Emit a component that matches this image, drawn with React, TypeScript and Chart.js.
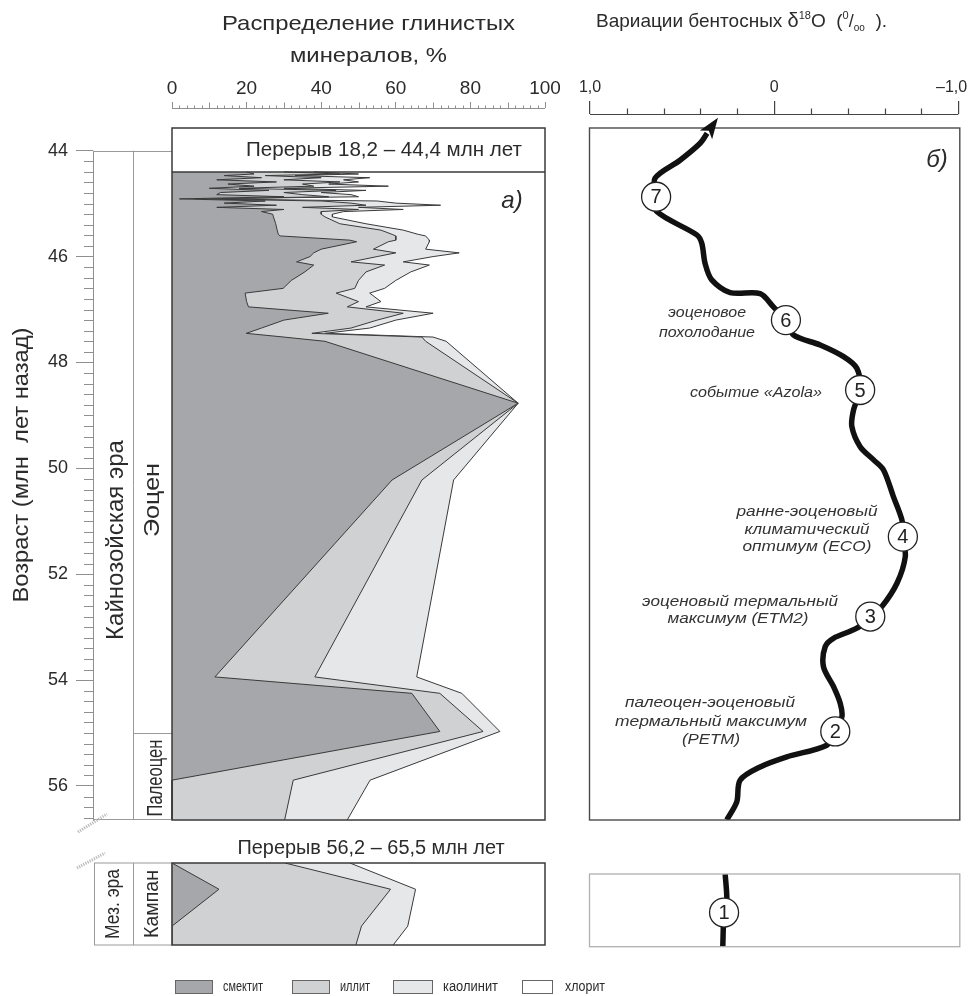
import React, { useEffect, useRef } from 'react';
import { Chart, registerables } from 'chart.js';

Chart.register(...registerables);

// ===================== DATA =====================
// Eocene – Paleocene section, sample ages (Ma)
const AGES = [44.40, 44.44, 44.47, 44.51, 44.55, 44.59, 44.63, 44.67, 44.71, 44.75,
  44.79, 44.83, 44.87, 44.91, 44.95, 44.99, 45.03, 45.07, 45.11, 45.15,
  45.20, 45.25, 45.38, 45.50, 45.58, 45.61, 45.69, 45.72, 45.86, 45.93,
  46.00, 46.10, 46.16, 46.29, 46.45, 46.60, 46.69, 46.85, 46.95, 47.07,
  47.20, 47.35, 47.45, 47.52, 47.60, 48.77, 50.22, 53.94, 54.25, 54.97,
  55.89, 56.64];
// clay minerals, %
const SMECTITE = [20, 22, 14, 24, 12, 28, 15, 22, 10, 26,
  13, 12, 30, 2, 25, 14, 28, 12, 30, 24,
  27, 27.2, 27.8, 28.2, 28.5, 29, 47.7, 49.5, 40, 38,
  37, 33.4, 38, 35.6, 32, 29.8, 19.6, 20, 20.5, 41.9,
  30, 24, 19.9, 30, 41, 92.8, 59, 11.5, 64.3, 71.8,
  0, 0];
const ILLITE = [10, 23, 11, 16, 18, 17, 20, 16, 8, 18,
  17, 23, 12, 4, 15, 34, 24, 23, 20, 16,
  13, 13.8, 17.2, 27.8, 30.5, 31, 12.3, 8.5, 14, 22,
  18, 14.6, 19, 16.4, 18, 19.2, 24.4, 30, 26.5, 20.1,
  25, 24, 17.6, 37, 27, 0, 8, 26.8, 7.5, 11.6,
  32.5, 30.2];
const KAOLINITE = [8, 5, 8, 13, 16, 5, 7, 20, 12, 8,
  10, 13, 8, 4, 15, 12, 20, 15, 12, 6,
  3, 2, 7, 6, 7, 8, 9, 11, 14, 17,
  15, 14, 12, 12, 10, 8, 9, 6, 5, 8,
  5, 5, 3.5, 3, 5.5, 0, 8.5, 27.3, 5.9, 4.5,
  20.6, 16.8];
const CHLORITE = [62, 50, 67, 47, 54, 50, 58, 42, 70, 48,
  60, 52, 50, 90, 45, 40, 28, 50, 38, 54,
  57, 57, 48, 38, 34, 32, 31, 31, 32, 23,
  30, 38, 31, 36, 40, 43, 47, 44, 48, 30,
  40, 47, 59, 30, 26.5, 7.2, 24.5, 34.4, 22.3, 12.1,
  46.9, 53];

// Campanian interval (relative position in the box, 0 = top, 1 = bottom)
const CAMP_POS = [0, 0.32, 0.77, 1];
const CAMP_SMECTITE = [0, 12.6, 0, 0];
const CAMP_ILLITE = [30.3, 46, 50.8, 49.3];
const CAMP_KAOLINITE = [17.4, 6.7, 12.4, 10];
const CAMP_CHLORITE = [52.3, 34.7, 36.8, 40.7];

// benthic d18O curve
const D18O_AGES = [43.67, 43.86, 44.18, 44.52, 44.87, 45.15, 45.59, 45.75, 46.13, 46.44,
  46.68, 46.70, 46.95, 47.20, 47.48, 47.67, 47.89, 48.11, 48.52, 48.90,
  49.21, 49.59, 49.84, 50.03, 50.54, 50.98, 51.29, 51.67, 52.17, 52.61,
  52.80, 53.02, 53.21, 53.37, 53.75, 54.12, 54.44, 54.69, 54.97, 55.23,
  55.45, 55.64, 55.89, 56.30, 56.64];
const D18O = [0.364, 0.402, 0.511, 0.647, 0.641, 0.637, 0.420, 0.393, 0.375, 0.339,
  0.239, 0.076, 0.004, -0.064, -0.105, -0.250, -0.377, -0.449, -0.467, -0.431,
  -0.422, -0.467, -0.540, -0.594, -0.648, -0.694, -0.699, -0.712, -0.667, -0.585,
  -0.522, -0.449, -0.322, -0.277, -0.268, -0.322, -0.359, -0.368, -0.332, -0.286,
  -0.069, 0.076, 0.185, 0.203, 0.257];
const EVENT_LABELS = ['7', '6', '5', '4', '3', '2'];
const EVENT_AGES = [44.87, 47.20, 48.52, 51.29, 52.80, 54.97];
const EVENT_D18O = [0.641, -0.064, -0.467, -0.699, -0.522, -0.332];

const CAMP_D18O_POS = [0, 0.36, 0.53, 1];
const CAMP_D18O = [0.266, 0.257, 0.272, 0.279];
const CAMP_EVENT_LABELS = ['1'];
const CAMP_EVENT_POS = [0.53];
const CAMP_EVENT_D18O = [0.272];

const PCT_TICKS = [0, 20, 40, 60, 80, 100];
const AGE_TICKS = [44, 46, 48, 50, 52, 54, 56];
const D18O_TICKS = [1, 0, -1];
const MINERALS = ['смектит', 'иллит', 'каолинит', 'хлорит'];
const EPOCH_BOUNDARY_AGE = 55.0;

// ===================== STYLE =====================
const MINERAL_COLORS = ['#a6a7aa', '#d0d1d3', '#e6e7e9', '#ffffff'];
const EDGE = '#3a3a3a';
const TEXT = '#2b2b2b';
const AXIS_GRAY = '#8f8f8f';
const FONT_SANS = '"Liberation Sans", Arial, Helvetica, sans-serif';
const FONT_NARROW = '"Liberation Sans Narrow", "Arial Narrow", "Liberation Sans", Arial, sans-serif';

// ===================== HELPERS =====================
type TextOpts = { size: number; family?: string; italic?: boolean; color?: string; align?: CanvasTextAlign; width?: number; rot?: number };
function drawText(ctx: CanvasRenderingContext2D, s: string, x: number, y: number, o: TextOpts) {
  ctx.save();
  ctx.translate(x, y);
  if (o.rot) ctx.rotate(o.rot);
  ctx.font = `${o.italic ? 'italic ' : ''}${o.size}px ${o.family || FONT_SANS}`;
  ctx.fillStyle = o.color || TEXT;
  ctx.textAlign = o.align || 'center';
  ctx.textBaseline = 'middle';
  if (o.width) {
    const w = ctx.measureText(s).width;
    if (w > 0) ctx.scale(o.width / w, 1);
  }
  ctx.fillText(s, 0, 0);
  ctx.restore();
}
function seg(ctx: CanvasRenderingContext2D, x1: number, y1: number, x2: number, y2: number) {
  ctx.beginPath();
  ctx.moveTo(x1, y1);
  ctx.lineTo(x2, y2);
  ctx.stroke();
}
function cumulate(series: number[][]): number[][] {
  const out: number[][] = [];
  let acc = series[0].map(() => 0);
  for (const s of series) {
    acc = acc.map((a, i) => a + s[i]);
    out.push(acc);
  }
  return out;
}
function stackedDatasets(pos: number[], series: number[][]) {
  const cum = cumulate(series);
  return cum.map((vals, i) => ({
    label: MINERALS[i],
    data: pos.map((p, j) => ({ x: vals[j], y: p })),
    fill: 'origin',
    backgroundColor: MINERAL_COLORS[i],
    borderColor: i < 3 ? EDGE : 'rgba(0,0,0,0)',
    borderWidth: i < 3 ? 1 : 0.01,
    pointRadius: 0,
    tension: 0,
  }));
}
const noPad = (s: any) => { s.paddingLeft = 0; s.paddingRight = 0; s.paddingTop = 0; s.paddingBottom = 0; };
const baseOptions = {
  animation: false,
  responsive: false,
  maintainAspectRatio: false,
  indexAxis: 'y',
  events: [],
  plugins: { legend: { display: false }, tooltip: { enabled: false }, title: { display: false } },
};
const fmtD18O = (v: number) => (v === 0 ? '0' : v < 0 ? '–' + Math.abs(v).toFixed(1).replace('.', ',') + '   ' : v.toFixed(1).replace('.', ','));

// ===================== LAYOUT (page px) =====================
const LEFT_W = 560, MAIN_H = 840;
const PANEL_L = 172, PANEL_R = 545, AXIS_X = 93, COL_X = 133;
const RULER_L = 108, RULER_R = 114, PANEL_B = 820;
const Y_AGE44 = 150.7, PX_PER_MA = 52.94;
const AGE_MAX = 44 + (PANEL_B - Y_AGE44) / PX_PER_MA;
const AGE_MIN_L = 44 - (Y_AGE44 - RULER_L) / PX_PER_MA;
const AGE_MIN_R = 44 - (Y_AGE44 - RULER_R) / PX_PER_MA;
const RIGHT_X = 560, RIGHT_W = 411, R_L = 590, R_R = 958.3;

// ===================== CHART CONFIGS =====================
function leftMainConfig(): any {
  const decor = {
    id: 'leftDecor',
    afterDraw(chart: any) {
      const { ctx, chartArea: ca, scales } = chart;
      const xs = scales.x, ys = scales.y;
      const X0 = xs.getPixelForValue(0), X100 = xs.getPixelForValue(100);
      ctx.save();
      // percent ruler
      ctx.strokeStyle = AXIS_GRAY; ctx.lineWidth = 1;
      const ry = Math.round(ca.top) + 0.5;
      seg(ctx, X0, ry, X100, ry);
      for (let v = 0; v <= 100; v += 2) {
        if (v % 20 === 0) continue;
        const px = Math.round(xs.getPixelForValue(v)) + 0.5;
        seg(ctx, px, ry, px, ry - (v % 10 === 0 ? 6 : 3));
      }
      // age minor ticks + axis line
      const yTop = ys.getPixelForValue(44);
      for (let k = 1; k < 70; k++) {
        if (k % 10 === 0) continue;
        const a = 44 + k * 0.2;
        if (a > ys.max) break;
        const py = Math.round(ys.getPixelForValue(a)) + 0.5;
        seg(ctx, ca.left - 9, py, ca.left, py);
      }
      const ax = Math.round(ca.left) + 0.5;
      seg(ctx, ax, yTop, ax, ca.bottom + 1);
      // stratigraphic columns
      ctx.strokeStyle = '#9a9a9a';
      seg(ctx, ca.left, Math.round(yTop) + 0.5, X0, Math.round(yTop) + 0.5);
      seg(ctx, COL_X + 0.5, yTop, COL_X + 0.5, ca.bottom);
      seg(ctx, ca.left, ca.bottom - 0.5, X0, ca.bottom - 0.5);
      const yb = Math.round(ys.getPixelForValue(EPOCH_BOUNDARY_AGE)) + 0.5;
      seg(ctx, COL_X, yb, X0, yb);
      // break mark
      ctx.strokeStyle = '#b8b8b8'; ctx.lineWidth = 3; ctx.setLineDash([1.2, 1.2]);
      seg(ctx, 78, 832, 107, 814);
      ctx.setLineDash([]);
      // panel frame and header box
      ctx.strokeStyle = EDGE; ctx.lineWidth = 1.5;
      ctx.strokeRect(X0, ca.top + 20, X100 - X0, ca.bottom - ca.top - 20);
      const yh = ys.getPixelForValue(AGES[0]);
      seg(ctx, X0, yh, X100, yh);
      ctx.restore();

      drawText(ctx, 'Распределение глинистых', 368.5, 24, { size: 21, width: 293 });
      drawText(ctx, 'минералов, %', 368.5, 56, { size: 21, width: 157 });
      drawText(ctx, 'Перерыв 18,2 – 44,4 млн лет', 384, 150, { size: 20, width: 276 });
      drawText(ctx, 'а)', 512, 201, { size: 24, italic: true });
      drawText(ctx, 'Возраст (млн  лет назад)', 22, 465, { size: 22, width: 275, rot: -Math.PI / 2 });
      drawText(ctx, 'Кайнозойская эра', 116, 540, { size: 24, width: 200, rot: -Math.PI / 2 });
      drawText(ctx, 'Эоцен', 153, 500, { size: 22, width: 74, rot: -Math.PI / 2 });
      drawText(ctx, 'Палеоцен', 156, 778, { size: 22, family: FONT_NARROW, width: 77, rot: -Math.PI / 2 });
    },
  };
  return {
    type: 'line',
    data: { datasets: stackedDatasets(AGES, [SMECTITE, ILLITE, KAOLINITE, CHLORITE]) },
    options: {
      ...baseOptions,
      layout: { padding: { left: 0, top: 0, right: LEFT_W - PANEL_R, bottom: MAIN_H - PANEL_B }, autoPadding: false },
      scales: {
        x: {
          type: 'linear', position: 'top',
          min: -(PANEL_L - AXIS_X) / ((PANEL_R - PANEL_L) / 100), max: 100,
          afterBuildTicks: (s: any) => { s.ticks = PCT_TICKS.map((v) => ({ value: v })); },
          afterFit: (s: any) => { s.height = RULER_L; noPad(s); },
          ticks: { autoSkip: false, maxRotation: 0, padding: 2, color: TEXT, font: { family: FONT_NARROW, size: 19 }, callback: (v: any) => String(v) },
          grid: { drawOnChartArea: false, drawTicks: true, tickLength: 6, color: AXIS_GRAY },
          border: { display: false },
        },
        y: {
          type: 'linear', position: 'left', reverse: true, min: AGE_MIN_L, max: AGE_MAX,
          afterBuildTicks: (s: any) => { s.ticks = AGE_TICKS.map((v) => ({ value: v })); },
          afterFit: (s: any) => { s.width = AXIS_X; noPad(s); },
          ticks: { autoSkip: false, padding: 8, color: TEXT, font: { family: FONT_NARROW, size: 18 }, callback: (v: any) => String(v) },
          grid: { drawOnChartArea: false, drawTicks: true, tickLength: 17, color: AXIS_GRAY },
          border: { display: false },
        },
      },
    },
    plugins: [decor],
  };
}

function rightMainConfig(): any {
  const decor = {
    id: 'rightDecor',
    afterDraw(chart: any) {
      const { ctx, chartArea: ca, scales } = chart;
      const xs = scales.x;
      ctx.save();
      // ruler
      ctx.strokeStyle = '#444'; ctx.lineWidth = 1.2;
      const ry = Math.round(ca.top) + 0.5;
      const xa = xs.getPixelForValue(1), xb = xs.getPixelForValue(-1);
      seg(ctx, xa, ry, xb, ry);
      for (let k = -4; k <= 4; k++) {
        if (k === 0) continue;
        const px = Math.round(xs.getPixelForValue(k * 0.2)) + 0.5;
        seg(ctx, px, ry, px, ry - 6);
      }
      // frame
      ctx.strokeStyle = '#4a4a4a'; ctx.lineWidth = 1.4;
      ctx.strokeRect(xa - 0.5, ca.top + 14, xb - xa + 2, ca.bottom - ca.top - 14);
      // arrow head at the young end of the curve
      const meta = chart.getDatasetMeta(1);
      const p0 = meta.data[0], p1 = meta.data[1];
      let dx = p0.x - p1.x, dy = p0.y - p1.y;
      const len = Math.hypot(dx, dy) || 1; dx /= len; dy /= len;
      const tipX = p0.x + dx * 19, tipY = p0.y + dy * 19;
      const bx = p0.x - dx * 2, by = p0.y - dy * 2;
      ctx.fillStyle = '#111';
      ctx.beginPath();
      ctx.moveTo(tipX, tipY);
      ctx.lineTo(bx - dy * 7.5, by + dx * 7.5);
      ctx.lineTo(p0.x + dx * 3, p0.y + dy * 3);
      ctx.lineTo(bx + dy * 7.5, by - dx * 7.5);
      ctx.closePath();
      ctx.fill();
      // labels in circles
      const mk = chart.getDatasetMeta(0);
      mk.data.forEach((pt: any, i: number) => drawText(ctx, EVENT_LABELS[i], pt.x, pt.y + 1, { size: 20, color: '#222' }));
      ctx.restore();

      // title with super/subscripts
      const parts = [
        { t: 'Вариации бентосных ', size: 19, dy: 0 },
        { t: 'δ', size: 20, dy: 0 },
        { t: '18', size: 11, dy: -8 },
        { t: 'O  (', size: 19, dy: 0 },
        { t: '0', size: 11, dy: -8 },
        { t: '/', size: 18, dy: 0 },
        { t: 'оо', size: 10, dy: 4 },
        { t: '  ).', size: 19, dy: 0 },
      ];
      ctx.save();
      ctx.fillStyle = TEXT; ctx.textAlign = 'left'; ctx.textBaseline = 'alphabetic';
      let cx = 596 - RIGHT_X;
      for (const p of parts) {
        ctx.font = `${p.size}px ${FONT_SANS}`;
        ctx.fillText(p.t, cx, 27 + p.dy);
        cx += ctx.measureText(p.t).width;
      }
      ctx.restore();

      drawText(ctx, 'б)', 937 - RIGHT_X, 160, { size: 24, italic: true });
      const notes: [string, number, number, number][] = [
        ['эоценовое', 707, 313, 78],
        ['похолодание', 707, 333, 96],
        ['событие «Azola»', 756, 393, 132],
        ['ранне-эоценовый', 807, 512, 141],
        ['климатический', 807, 530, 125],
        ['оптимум (ECO)', 807, 547, 129],
        ['эоценовый термальный', 740, 602, 196],
        ['максимум (ETM2)', 738, 619, 141],
        ['палеоцен-эоценовый', 710, 703, 170],
        ['термальный максимум', 711, 722, 192],
        ['(PETM)', 711, 740, 58],
      ];
      for (const [t, x, y, w] of notes) drawText(ctx, t, x - RIGHT_X, y, { size: 15, italic: true, width: w, color: '#333' });
    },
  };
  return {
    type: 'line',
    data: {
      datasets: [
        {
          label: 'events',
          data: EVENT_AGES.map((a, i) => ({ x: EVENT_D18O[i], y: a })),
          showLine: false, pointRadius: 14.5, pointBackgroundColor: '#fff', pointBorderColor: '#222', pointBorderWidth: 1.3,
        },
        {
          label: 'δ18O',
          data: D18O_AGES.map((a, i) => ({ x: D18O[i], y: a })),
          borderColor: '#111', borderWidth: 5.5, pointRadius: 0, tension: 0.3, fill: false,
          borderJoinStyle: 'round', borderCapStyle: 'butt',
        },
      ],
    },
    options: {
      ...baseOptions,
      layout: { padding: { left: R_L - RIGHT_X, top: 0, right: RIGHT_X + RIGHT_W - R_R, bottom: MAIN_H - PANEL_B }, autoPadding: false },
      scales: {
        x: {
          type: 'linear', position: 'top', min: -1, max: 1, reverse: true,
          afterBuildTicks: (s: any) => { s.ticks = D18O_TICKS.map((v) => ({ value: v })); },
          afterFit: (s: any) => { s.height = RULER_R; noPad(s); },
          ticks: { autoSkip: false, maxRotation: 0, padding: 4, color: TEXT, font: { family: FONT_SANS, size: 16 }, callback: (v: any) => fmtD18O(v) },
          grid: { drawOnChartArea: false, drawTicks: true, tickLength: 13, color: '#444', lineWidth: 1.2 },
          border: { display: false },
        },
        y: { type: 'linear', reverse: true, min: AGE_MIN_R, max: AGE_MAX, display: false },
      },
    },
    plugins: [decor],
  };
}

function bottomLeftConfig(): any {
  const OFF = 840;
  const decor = {
    id: 'bottomLeftDecor',
    afterDraw(chart: any) {
      const { ctx, chartArea: ca } = chart;
      ctx.save();
      ctx.strokeStyle = '#9a9a9a'; ctx.lineWidth = 1;
      ctx.strokeRect(94.5, ca.top, ca.left - 94.5, ca.bottom - ca.top);
      seg(ctx, COL_X + 0.5, ca.top, COL_X + 0.5, ca.bottom);
      ctx.strokeStyle = EDGE; ctx.lineWidth = 1.5;
      ctx.strokeRect(ca.left, ca.top, ca.right - ca.left, ca.bottom - ca.top);
      ctx.strokeStyle = '#b8b8b8'; ctx.lineWidth = 3; ctx.setLineDash([1.2, 1.2]);
      seg(ctx, 77, 868 - OFF, 105, 853 - OFF);
      ctx.setLineDash([]);
      ctx.restore();
      const cy = (ca.top + ca.bottom) / 2;
      drawText(ctx, 'Мез. эра', 113, cy, { size: 20, width: 70, rot: -Math.PI / 2 });
      drawText(ctx, 'Кампан', 152, cy, { size: 21, width: 68, rot: -Math.PI / 2 });
      drawText(ctx, 'Перерыв 56,2 – 65,5 млн лет', 371, 848 - OFF, { size: 20, width: 267 });
      // legend
      const boxes: [number, number][] = [[175, 37], [292, 37], [393, 39], [522, 30]];
      const textX = [223, 340, 443, 565];
      const textW = [40, 30, 55, 40];
      MINERALS.forEach((m, i) => {
        ctx.save();
        ctx.fillStyle = MINERAL_COLORS[i];
        ctx.fillRect(boxes[i][0], 980 - OFF, boxes[i][1], 13);
        ctx.strokeStyle = '#666'; ctx.lineWidth = 1;
        ctx.strokeRect(boxes[i][0] + 0.5, 980.5 - OFF, boxes[i][1], 13);
        ctx.restore();
        drawText(ctx, m, textX[i], 987 - OFF, { size: 14, family: FONT_NARROW, align: 'left', width: textW[i] });
      });
    },
  };
  return {
    type: 'line',
    data: { datasets: stackedDatasets(CAMP_POS, [CAMP_SMECTITE, CAMP_ILLITE, CAMP_KAOLINITE, CAMP_CHLORITE]) },
    options: {
      ...baseOptions,
      layout: { padding: { left: PANEL_L, top: 863 - OFF, right: 971 - PANEL_R, bottom: 996 - 945 }, autoPadding: false },
      scales: {
        x: { type: 'linear', min: 0, max: 100, display: false },
        y: { type: 'linear', reverse: true, min: 0, max: 1, display: false },
      },
    },
    plugins: [decor],
  };
}

function bottomRightConfig(): any {
  const OFF = 840, H = 120;
  const decor = {
    id: 'bottomRightDecor',
    afterDraw(chart: any) {
      const { ctx, chartArea: ca } = chart;
      ctx.save();
      ctx.strokeStyle = '#b0b0b0'; ctx.lineWidth = 1.3;
      ctx.strokeRect(ca.left - 0.5, ca.top, ca.right - ca.left + 2, ca.bottom - ca.top);
      const mk = chart.getDatasetMeta(0);
      mk.data.forEach((pt: any, i: number) => drawText(ctx, CAMP_EVENT_LABELS[i], pt.x, pt.y + 1, { size: 20, color: '#222' }));
      ctx.restore();
    },
  };
  return {
    type: 'line',
    data: {
      datasets: [
        {
          label: 'event',
          data: CAMP_EVENT_POS.map((p, i) => ({ x: CAMP_EVENT_D18O[i], y: p })),
          showLine: false, pointRadius: 14.5, pointBackgroundColor: '#fff', pointBorderColor: '#222', pointBorderWidth: 1.3,
        },
        {
          label: 'δ18O',
          data: CAMP_D18O_POS.map((p, i) => ({ x: CAMP_D18O[i], y: p })),
          borderColor: '#111', borderWidth: 5.5, pointRadius: 0, tension: 0.3, fill: false,
        },
      ],
    },
    options: {
      ...baseOptions,
      layout: { padding: { left: R_L - RIGHT_X, top: 874 - OFF, right: RIGHT_X + RIGHT_W - R_R, bottom: H - (946.7 - OFF) }, autoPadding: false },
      scales: {
        x: { type: 'linear', min: -1, max: 1, reverse: true, display: false },
        y: { type: 'linear', reverse: true, min: 0, max: 1, display: false },
      },
    },
    plugins: [decor],
  };
}

// ===================== COMPONENTS =====================
function ChartCanvas(props: { left: number; top: number; width: number; height: number; make: () => any }) {
  const ref = useRef<HTMLCanvasElement>(null);
  useEffect(() => {
    if (!ref.current) return;
    const chart = new Chart(ref.current, props.make());
    return () => chart.destroy();
  }, []);
  return (
    <canvas
      ref={ref}
      width={props.width}
      height={props.height}
      style={{ position: 'absolute', left: props.left, top: props.top, width: props.width, height: props.height }}
    />
  );
}

export default function App() {
  return (
    <div style={{ position: 'absolute', left: 0, top: 0, width: 971, height: 996, background: '#fff', overflow: 'hidden' }}>
      <ChartCanvas left={0} top={840} width={971} height={156} make={bottomLeftConfig} />
      <ChartCanvas left={RIGHT_X} top={840} width={RIGHT_W} height={120} make={bottomRightConfig} />
      <ChartCanvas left={0} top={0} width={LEFT_W} height={MAIN_H} make={leftMainConfig} />
      <ChartCanvas left={RIGHT_X} top={0} width={RIGHT_W} height={MAIN_H} make={rightMainConfig} />
    </div>
  );
}
